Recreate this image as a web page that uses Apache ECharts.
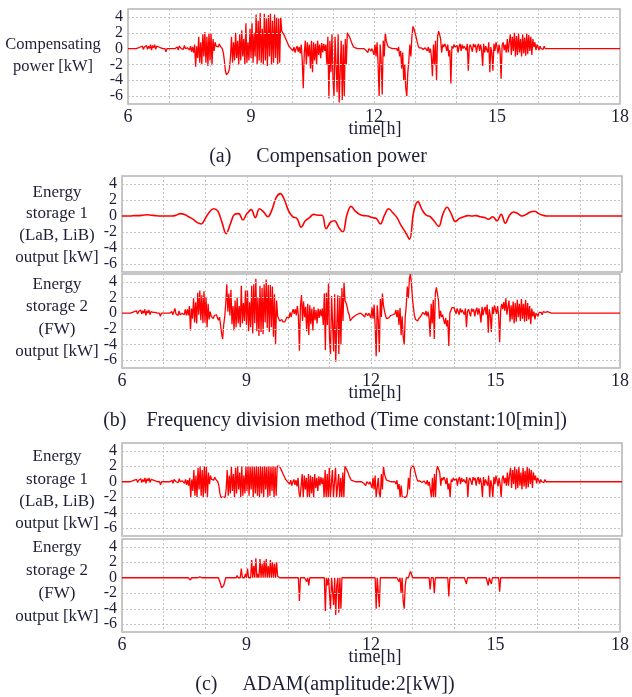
<!DOCTYPE html>
<html>
<head>
<meta charset="utf-8">
<script src="https://cdn.jsdelivr.net/npm/echarts@6/dist/echarts.min.js"></script>
<style>
html,body{margin:0;padding:0;background:#fff;}
#chart{width:632px;height:697px;}
</style>
</head>
<body>
<div id="chart"></div>
<script>
// ---- sampling of the recorded signals ----
const t0 = 6;            // start time [h]
const dtFast = 0.025;    // sample step of the fast series [h]
const dtSlow = 0.1;      // sample step of the smoothed series [h]
const idleEndTime = 18;  // after the last sample the output stays at idleValue
const idleValue = 0;

const xTicks = [6, 9, 12, 15, 18];
const yTicks = [-6, -4, -2, 0, 2, 4];

// (a) Compensating power [kW]
const compensation = [
0,0,0,0,0,0,0,0,0,0,
0.1,-0.1,0.2,0,0.3,-0.1,0.2,0.1,0.4,-0.1,
0.3,0,0.5,-0.2,0.4,0.1,0.5,-0.1,0.3,0.1,
0.2,0,0.1,0,0,0.1,0,-0.4,0,0,
0,0,0,0,0,0,0,0,0.2,-0.2,
0.3,0.5,0,0.2,-0.1,0.4,0,0,0.1,0,
-0.2,0.3,-0.4,0.2,-0.5,0.5,-2.3,0.3,-1.2,1.5,
-1.8,0.8,-2.0,1.8,-1.0,2.1,-1.8,1.5,-2.2,2.0,
-1.5,1.9,-2.1,1.2,-0.3,0.8,0.3,0.5,0.2,0.6,
0.3,0.4,0,-0.5,-1.5,-2.8,-3.3,-3.5,-3.0,-2.5,
-1.0,1.5,-1.8,0.8,-1.5,2.0,-1.2,1.0,-2.0,1.8,
-1.5,2.3,-1.0,1.2,-2.0,3.2,-1.8,0.8,-1.5,2.5,
-1.2,3.2,-1.8,2.0,-1.0,4.3,-2.0,3.5,-1.5,4.5,
-1.8,2.5,-2.0,4.4,-1.5,3.8,-2.2,4.2,-1.0,4.4,
-2.0,3.5,-1.8,4.3,-1.2,4.0,-2.0,3.8,-1.8,4.0,
2.2,2.0,1.8,1.5,1.2,0.9,0.6,0.3,0.1,0,
0,-0.3,0.2,-0.5,0,0.3,-0.4,0.2,-0.6,0.5,
-1.5,-5.0,-0.5,1.0,-2.0,0.8,-1.0,0.5,-2.5,1.0,
-3.0,0.8,-1.5,0.6,-2.0,1.0,-0.8,0.5,-1.2,0.7,
-0.5,0.6,-0.3,0.5,-2.0,1.5,-6.3,1.0,-3.0,1.8,
-4.0,-6.0,1.5,-2.0,-5.5,1.8,-6.8,-3.0,1.0,-6.5,
0.5,-6.0,1.2,-2.0,2.0,1.8,1.5,1.2,0.8,0.5,
0.2,0,0.1,0,0,0.1,0,-0.1,0,0.1,
0,0.1,-0.2,0,-0.5,0,0.1,-0.3,0,0.2,
-0.8,0.5,-1.0,0.8,-2.0,-6.0,0.5,-1.5,-5.8,1.0,
-1.0,2.0,1.0,0.5,0.2,0,0.1,0,0,0.1,
0,0.1,0,-0.3,0.2,-1.0,-0.3,-2.5,-0.5,-4.0,
-2.0,-5.0,-6.0,-3.0,-1.5,0.5,-1.0,1.5,2.8,2.5,
2.0,1.5,0.9,0.4,0.1,0,0.1,0,-0.1,0,
0.1,0,-0.3,0.2,-0.5,0,-1.0,-3.5,0.5,-2.0,
1.0,-4.0,1.5,2.2,1.8,1.2,-0.5,0.5,0.2,0.6,
0.3,-0.3,0.5,-1.0,-0.2,-4.4,0.3,0,0.5,0.2,
0,0.4,-0.5,0.3,0.6,-0.3,0.5,0,0.3,0.5,
-0.2,0.6,-2.8,0.2,0.5,0.3,-0.4,0.6,0.2,0.5,
-0.5,0.3,0.6,-0.3,0.5,-0.2,-2.2,0.6,-0.5,0.3,
0.5,-0.5,0.8,-3.0,0.2,-0.5,-2.8,0.6,-0.3,0.8,
0.2,-0.6,0.5,-0.3,-3.8,0.4,0.8,-0.2,0.5,-0.5,
1.2,-0.5,0.8,1.8,-0.8,1.5,-0.3,2.0,-1.0,1.6,
-0.8,1.9,-0.5,1.2,-1.0,1.8,-0.6,1.4,-0.9,1.9,
-0.7,1.7,-0.3,1.5,-0.8,1.2,0.2,0.8,-0.2,0.5,
0.2,-0.2,0.3,0,0.2,-0.1,0.3,0,0.1,0,
0.2,0,0.1,0,0,0,0
];

// (b) Frequency division: storage 1 (LaB, LiB), smooth part [kW], step dtSlow
const fdStorage1 = [
0,0,0,0.05,0.05,0.1,0.15,0.1,0.05,0,
0,0,0,0.1,0.3,0.2,-0.1,-0.4,-0.8,-1.0,
-0.3,0.5,0.9,0.6,-0.8,-2.2,-1.0,0.2,0.3,-0.5,
0.3,0.8,-0.2,0.9,0.5,-0.1,0.8,2.3,2.8,2.0,
0.6,-0.1,-0.3,-1.4,-0.6,-0.2,0.2,0.1,0.1,-1.6,
-0.8,-0.6,-1.4,-2.0,0.2,1.2,0.6,0.2,0.05,0,
-0.2,-0.3,-1.0,0.1,0.9,0.4,-0.2,-1.2,-2.0,-2.9,
0.5,1.8,0.8,0.1,-0.1,-0.7,-1.3,0.2,1.1,0.3,
-0.7,-0.3,-0.1,0.05,0,0.05,-0.1,-0.2,-0.4,-0.1,
-0.6,0.2,-0.9,0.1,0.5,0.3,0,0.2,0.5,0.6,
0.3,0.1,0,0,0
];

// (b) Frequency division: storage 2 (FW), fast part [kW]
const fdStorage2 = [
0,0,0,0,0,0,0,0,0,0,
0.1,-0.1,0.2,0,0.3,-0.1,0.2,0.1,0.4,-0.1,
0.3,0,0.5,-0.3,0.3,0,0.4,-0.2,0.2,0,
0.1,0,0.1,0,0,0.1,0,-0.4,0,0,
0,0,0,0,0,0,0,0,0.2,-0.2,
0.2,0.6,-0.1,0.1,-0.3,0.3,-0.2,-0.3,0,-0.2,
-0.2,0.5,-0.3,0.5,-0.3,0.9,-2.2,0.6,-0.7,1.9,
-1.2,1.4,-1.3,2.6,-0.2,2.9,-0.9,2.3,-1.3,2.8,
-1.2,2.1,-1.8,1.2,-0.8,0.2,-0.4,-0.3,-0.7,-0.3,
-0.4,-0.2,-0.6,-0.9,-0.5,-1.5,-2.6,-3.3,-1.5,-0.5,
1.2,3.7,0.2,2.5,-0.3,3.0,-1.4,0.9,-2.2,1.6,
-1.8,2.0,-1.3,0.9,-1.8,3.5,-1.3,1.3,-1.0,2.9,
-1.5,2.9,-2.3,1.4,-1.8,3.5,-2.6,3.7,-1.3,4.4,
-2.3,2.0,-2.9,3.5,-2.4,3.2,-2.7,3.7,-1.2,4.3,
-1.9,3.6,-2.4,3.6,-1.8,3.4,-3.0,2.4,-4.0,1.6,
-0.4,-0.6,-1.0,-0.9,-0.8,-1.1,-1.3,-1.1,-0.8,-0.5,
-0.6,-0.6,0.1,-0.5,0.1,0.5,-0.1,0.5,-0.3,0.9,
-0.3,-4.8,0.9,2.3,-1.0,1.5,-0.5,0.8,-2.3,1.2,
-2.8,1.0,-1.4,0.6,-2.2,0.8,-0.9,0.4,-1.3,0.6,
-0.6,0.5,-0.4,0.6,-1.5,2.5,-4.7,2.6,-1.5,3.8,
-3.2,-5.2,2.2,-1.4,-4.9,2.4,-6.2,-1.8,2.3,-5.2,
2.2,-4.0,3.2,-1.0,3.9,1.6,1.3,0.8,0.1,-0.2,
-1.0,-0.9,-0.6,-0.5,-0.4,-0.2,-0.2,-0.2,-0.1,0,
0,0.1,-0.2,0,-0.5,0,0.1,-0.3,0,0.2,
-0.6,0.7,-0.7,1.1,-1.7,-5.5,1.0,-0.8,-5.0,1.8,
-0.5,2.5,1.0,0.3,-0.3,-0.7,-0.8,-0.6,-0.5,-0.3,
-0.4,-0.2,0,-0.1,0.4,-0.5,0.4,-1.5,0.7,-2.8,
-0.4,-3.0,-4.0,-0.5,1.0,3.4,1.9,4.4,5.0,3.7,
1.8,0.6,-0.4,-0.8,-1.0,-1.0,-0.7,-0.5,-0.4,-0.2,
0.1,0,-0.2,0.3,-0.4,0.2,-0.7,-3.0,1.2,-1.3,
1.7,-3.3,2.5,3.3,3.1,1.7,-0.7,0.3,-0.5,-0.2,
-0.4,-1.4,-0.6,-1.7,-0.9,-4.2,0,0.2,0.7,0.6,
0.7,0.9,-0.1,0.6,0.8,-0.2,0.6,0.1,0.4,0.5,
-0.2,0.6,-1.8,0.2,0.5,0.3,-0.4,0.6,0.2,0.5,
-0.4,0.3,0.7,-0.2,0.6,-0.1,-1.2,0.8,-0.3,0.5,
0.8,-0.2,1.1,-2.5,0.5,-0.3,-2.4,0.8,-0.1,1.0,
0.8,-0.1,0.9,-0.3,-3.7,0.4,1.2,0.5,1.4,0.3,
1.9,-0.2,0.8,1.6,-1.1,1.0,-0.8,1.5,-1.3,1.3,
-1.1,1.7,-0.5,1.2,-1.0,1.8,-0.7,1.2,-1.1,1.7,
-1.0,1.3,-0.8,0.9,-1.4,0.6,-0.4,0.2,-0.8,0,
-0.1,-0.4,0.1,-0.1,0.1,-0.2,0.2,0,0.1,0,
0.2,0,0.1,0,0,0,0
];

// (c) ADAM: storage 1 (LaB, LiB) [kW]
const adamStorage1 = [
0,0,0,0,0,0,0,0,0,0,
0.1,-0.1,0.2,0,0.3,-0.1,0.2,0.1,0.4,-0.1,
0.3,0,0.5,-0.2,0.4,0.1,0.5,-0.1,0.3,0.1,
0.2,0,0.1,0,0,0.1,0,-0.4,0,0,
0,0,0,0,0,0,0,0,0.2,-0.2,
0.3,0.5,0,0.2,-0.1,0.4,0,0,0.1,0,
-0.2,0.3,-0.4,0.2,-0.5,0.5,-2.0,0.3,-1.2,1.5,
-1.8,0.8,-2.0,1.8,-1.0,2.0,-1.8,1.5,-2.0,2.0,
-1.5,1.9,-2.0,1.2,-0.3,0.8,0.3,0.5,0.2,0.6,
0.3,0.4,0,-0.5,-1.5,-2.0,-2.0,-2.0,-2.0,-2.0,
-1.0,1.5,-1.8,0.8,-1.5,2.0,-1.2,1.0,-2.0,1.8,
-1.5,2.0,-1.0,1.2,-2.0,2.0,-1.8,0.8,-1.5,2.0,
-1.2,2.0,-1.8,2.0,-1.0,2.0,-2.0,2.0,-1.5,2.0,
-1.8,2.0,-2.0,2.0,-1.5,2.0,-2.0,2.0,-1.0,2.0,
-2.0,2.0,-1.8,2.0,-1.2,2.0,-2.0,2.0,-1.8,2.0,
2.0,2.0,1.8,1.5,1.2,0.9,0.6,0.3,0.1,0,
0,-0.3,0.2,-0.5,0,0.3,-0.4,0.2,-0.6,0.5,
-1.5,-2.0,-0.5,1.0,-2.0,0.8,-1.0,0.5,-2.0,1.0,
-2.0,0.8,-1.5,0.6,-2.0,1.0,-0.8,0.5,-1.2,0.7,
-0.5,0.6,-0.3,0.5,-2.0,1.5,-2.0,1.0,-2.0,1.8,
-2.0,-2.0,1.5,-2.0,-2.0,1.8,-2.0,-2.0,1.0,-2.0,
0.5,-2.0,1.2,-2.0,2.0,1.8,1.5,1.2,0.8,0.5,
0.2,0,0.1,0,0,0.1,0,-0.1,0,0.1,
0,0.1,-0.2,0,-0.5,0,0.1,-0.3,0,0.2,
-0.8,0.5,-1.0,0.8,-2.0,-2.0,0.5,-1.5,-2.0,1.0,
-1.0,2.0,1.0,0.5,0.2,0,0.1,0,0,0.1,
0,0.1,0,-0.3,0.2,-1.0,-0.3,-2.0,-0.5,-2.0,
-2.0,-2.0,-2.0,-2.0,-1.5,0.5,-1.0,1.5,2.0,2.0,
2.0,1.5,0.9,0.4,0.1,0,0.1,0,-0.1,0,
0.1,0,-0.3,0.2,-0.5,0,-1.0,-2.0,0.5,-2.0,
1.0,-2.0,1.5,2.0,1.8,1.2,-0.5,0.5,0.2,0.6,
0.3,-0.3,0.5,-1.0,-0.2,-2.0,0.3,0,0.5,0.2,
0,0.4,-0.5,0.3,0.6,-0.3,0.5,0,0.3,0.5,
-0.2,0.6,-2.0,0.2,0.5,0.3,-0.4,0.6,0.2,0.5,
-0.5,0.3,0.6,-0.3,0.5,-0.2,-2.0,0.6,-0.5,0.3,
0.5,-0.5,0.8,-2.0,0.2,-0.5,-2.0,0.6,-0.3,0.8,
0.2,-0.6,0.5,-0.3,-2.0,0.4,0.8,-0.2,0.5,-0.5,
1.2,-0.5,0.8,1.8,-0.8,1.5,-0.3,2.0,-1.0,1.6,
-0.8,1.9,-0.5,1.2,-1.0,1.8,-0.6,1.4,-0.9,1.9,
-0.7,1.7,-0.3,1.5,-0.8,1.2,0.2,0.8,-0.2,0.5,
0.2,-0.2,0.3,0,0.2,-0.1,0.3,0,0.1,0,
0.2,0,0.1,0,0,0,0
];

// (c) ADAM: storage 2 (FW) [kW]
const adamStorage2 = [
0,0,0,0,0,0,0,0,0,0,
0,0,0,0,0,0,0,0,0,0,
0,0,0,0,0,0,0,0,0,0,
0,0,0,0,0,0,0,0,0,0,
0,0,0,0,0,0,0,0,0,0,
0,0,0,0,0,0,0,0,0,0,
0,0,0,0,0,0,-0.3,0,0,0,
0,0,0,0,0,0.1,0,0,-0.2,0,
0,0,-0.1,0,0,0,0,0,0,0,
0,0,0,0,0,-0.8,-1.3,-1.5,-1.0,-0.5,
0,0,0,0,0,0,0,0,0,0,
0,0.3,0,0,0,1.2,0,0,0,0.5,
0,1.2,0,0,0,2.3,0,1.5,0,2.5,
0,0.5,0,2.4,0,1.8,0,2.2,0,2.4,
0,1.5,0,2.3,0,2.0,0,1.8,0,2.0,
0.2,0,0,0,0,0,0,0,0,0,
0,0,0,0,0,0,0,0,0,0,
0,-3.0,0,0,0,0,0,0,-0.5,0,
-1.0,0,0,0,0,0,0,0,0,0,
0,0,0,0,0,0,-4.3,0,-1.0,0,
-2.0,-4.0,0,0,-3.5,0,-4.8,-1.0,0,-4.5,
0,-4.0,0,0,0,0,0,0,0,0,
0,0,0,0,0,0,0,0,0,0,
0,0,0,0,0,0,0,0,0,0,
0,0,0,0,0,-4.0,0,0,-3.8,0,
0,0,0,0,0,0,0,0,0,0,
0,0,0,0,0,0,0,-0.5,0,-2.0,
0,-3.0,-4.0,-1.0,0,0,0,0,0.8,0.5,
0,0,0,0,0,0,0,0,0,0,
0,0,0,0,0,0,0,-1.5,0,0,
0,-2.0,0,0.2,0,0,0,0,0,0,
0,0,0,0,0,-2.4,0,0,0,0,
0,0,0,0,0,0,0,0,0,0,
0,0,-0.8,0,0,0,0,0,0,0,
0,0,0,0,0,0,-0.2,0,0,0,
0,0,0,-1.0,0,0,-0.8,0,0,0,
0,0,0,0,-1.8,0,0,0,0,0,
0,0,0,0,0,0,0,0,0,0,
0,0,0,0,0,0,0,0,0,0,
0,0,0,0,0,0,0,0,0,0,
0,0,0,0,0,0,0,0,0,0,
0,0,0,0,0,0,0
];

// ---- chart building ----
const serif = '"Liberation Serif", "Times New Roman", serif';
const textColor = '#1e1e36';

function toPoints(values, step) {
  const pts = values.map((v, i) => [Math.round((t0 + i * step) * 1000) / 1000, v]);
  pts.push([idleEndTime, idleValue]);
  return pts;
}

const panels = [
  { grid: {left: 128, right: 10, top: 9,   height: 95}, values: compensation, step: dtFast, xLabels: true },
  { grid: {left: 122, right: 10, top: 176, height: 96}, values: fdStorage1,  step: dtSlow, xLabels: false, smooth: true },
  { grid: {left: 122, right: 10, top: 274, height: 94}, values: fdStorage2,  step: dtFast, xLabels: true },
  { grid: {left: 122, right: 10, top: 443, height: 93}, values: adamStorage1, step: dtFast, xLabels: false },
  { grid: {left: 122, right: 10, top: 539, height: 93}, values: adamStorage2, step: dtFast, xLabels: true }
];

const grids = [], xAxes = [], yAxes = [], series = [];
panels.forEach((p, i) => {
  grids.push(Object.assign({show: true, borderColor: '#b4b4b4', borderWidth: 1.5, backgroundColor: 'transparent'}, p.grid));
  xAxes.push({
    type: 'value', gridIndex: i, min: 6, max: 18, interval: 1,
    axisLine: {show: false}, axisTick: {show: false},
    splitLine: {show: true, lineStyle: {type: [2, 2], color: '#c4c4c4', width: 1}},
    axisLabel: {
      show: p.xLabels, margin: 4, fontSize: 18, fontFamily: serif, color: textColor,
      formatter: v => xTicks.includes(v) ? String(v) : ''
    }
  });
  yAxes.push({
    type: 'value', gridIndex: i, min: -7, max: 5, interval: 1,
    axisLine: {show: false}, axisTick: {show: false}, splitLine: {show: false},
    axisLabel: {
      margin: 5, fontSize: 16, fontFamily: serif, color: textColor,
      formatter: v => yTicks.includes(v) ? String(v) : ''
    }
  });
  series.push({
    type: 'line', xAxisIndex: i, yAxisIndex: i, data: [], z: 1, silent: true,
    markLine: {
      silent: true, symbol: ['none', 'none'], animation: false,
      label: {show: false},
      lineStyle: {type: [2, 2], color: '#c4c4c4', width: 1},
      data: yTicks.filter(v => v !== 0).map(v => ({yAxis: v}))
    }
  });
  series.push({
    type: 'line', xAxisIndex: i, yAxisIndex: i, z: 3,
    data: toPoints(p.values, p.step),
    showSymbol: false, smooth: p.smooth ? 0.4 : false,
    lineStyle: {color: '#ff0000', width: p.smooth ? 1.6 : 1.3},
    itemStyle: {color: '#ff0000'},
    animation: false
  });
});

function txt(s, x, y, size) {
  return {type: 'text', x: x, y: y, silent: true,
    style: {text: s, fill: textColor, font: size + 'px ' + serif, align: 'center', verticalAlign: 'middle'}};
}

const graphics = [
  txt('Compensating', 53, 45, 16.5), txt('power [kW]', 53, 67, 16.5),
  txt('Energy', 57, 193, 17), txt('storage 1', 57, 214, 17), txt('(LaB, LiB)', 57, 236, 17), txt('output [kW]', 57, 258, 17),
  txt('Energy', 57, 285, 17), txt('storage 2', 57, 307, 17), txt('(FW)', 57, 330, 17), txt('output [kW]', 57, 352, 17),
  txt('Energy', 57, 457, 17), txt('storage 1', 57, 480, 17), txt('(LaB, LiB)', 57, 502, 17), txt('output [kW]', 57, 524, 17),
  txt('Energy', 57, 548, 17), txt('storage 2', 57, 571, 17), txt('(FW)', 57, 594, 17), txt('output [kW]', 57, 617, 17),
  txt('time[h]', 375, 129, 18), txt('time[h]', 375, 393, 18), txt('time[h]', 375, 657, 18),
  txt('(a)     Compensation power', 318, 157, 20),
  txt('(b)    Frequency division method (Time constant:10[min])', 335, 421, 20),
  txt('(c)     ADAM(amplitude:2[kW])', 325, 685, 20)
];

const chart = echarts.init(document.getElementById('chart'), null, {renderer: 'canvas'});
chart.setOption({
  animation: false,
  backgroundColor: '#ffffff',
  grid: grids, xAxis: xAxes, yAxis: yAxes, series: series,
  graphic: graphics
});
</script>
</body>
</html>
